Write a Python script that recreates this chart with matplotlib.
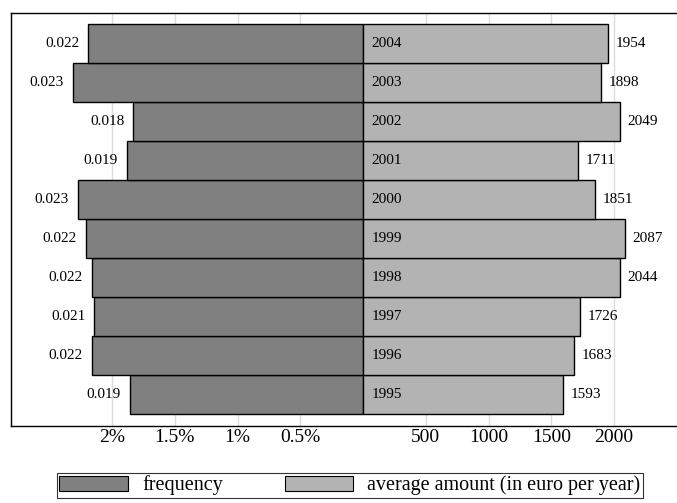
import numpy as np
import matplotlib.pyplot as plt
from matplotlib.patches import Patch

years = [1995, 1996, 1997, 1998, 1999, 2000, 2001, 2002, 2003, 2004]
freq = [0.0186, 0.0216, 0.0214, 0.0216, 0.0221, 0.0227, 0.0188, 0.0183, 0.0231, 0.0219]
freq_labels = ["0.019", "0.022", "0.021", "0.022", "0.022", "0.023", "0.019", "0.018", "0.023", "0.022"]
amount = [1593, 1683, 1726, 2044, 2087, 1851, 1711, 2049, 1898, 1954]

left_ticks = [0.02, 0.015, 0.01, 0.005]
left_ticklabels = ["2%", "1.5%", "1%", "0.5%"]
right_ticks = [500, 1000, 1500, 2000]

plt.rcParams["font.family"] = ["Liberation Serif", "DejaVu Serif"]

# 1% of frequency takes the same width as 1000 euro
k = 100000
dark = "#808080"
light = "#b3b3b3"

fig = plt.figure(figsize=(6.77, 5.03), dpi=100)
ax = fig.add_axes([11 / 677, 1 - 426 / 503, 1 - 11 / 677, (426 - 13) / 503])

y = np.arange(len(years))
f_scaled = -np.array(freq) * k
ax.barh(y, f_scaled, height=1.0, color=dark, edgecolor="black", linewidth=1, zorder=2)
ax.barh(y, amount, height=1.0, color=light, edgecolor="black", linewidth=1, zorder=2)

for yi, fv, lab, am, yr in zip(y, f_scaled, freq_labels, amount, years):
    ax.annotate(lab, (fv, yi), xytext=(-6.5, 0), textcoords="offset points",
                ha="right", va="center", fontsize=11)
    ax.annotate(str(am), (am, yi), xytext=(5.5, 0), textcoords="offset points",
                ha="left", va="center", fontsize=11)
    ax.annotate(str(yr), (0, yi), xytext=(6, 0), textcoords="offset points",
                ha="left", va="center", fontsize=11)

ticks = [-t * k for t in left_ticks] + right_ticks
labels = left_ticklabels + [str(t) for t in right_ticks]
ax.set_xticks(ticks)
ax.set_xticklabels(labels, fontsize=14)
ax.set_yticks([])
ax.tick_params(axis="x", length=0, pad=2)
ax.grid(axis="x", color="#dcdcdc", linewidth=1, zorder=0)
ax.set_axisbelow(True)

ax.set_xlim(-2805, 2502)
ax.set_ylim(-0.81, 9.78)
ax.spines["right"].set_visible(False)
for s in ["top", "left", "bottom"]:
    ax.spines[s].set_linewidth(1)

handles = [Patch(facecolor=dark, edgecolor="black", linewidth=0.8),
           Patch(facecolor=light, edgecolor="black", linewidth=0.8)]
leg = fig.legend(handles, ["frequency", "average amount (in euro per year)"],
                 loc="upper left",
                 bbox_to_anchor=(57 / 677, 1 - 501 / 503, (643 - 57) / 677, 28 / 503),
                 mode="expand", ncol=2, fontsize=14.5, frameon=True, fancybox=False,
                 handlelength=3.4, handleheight=0.8, columnspacing=1.0,
                 handletextpad=0.7, borderpad=0.12, borderaxespad=0)
leg.get_frame().set_edgecolor("black")
leg.get_frame().set_linewidth(0.8)

fig.savefig("out.png", dpi=100)
